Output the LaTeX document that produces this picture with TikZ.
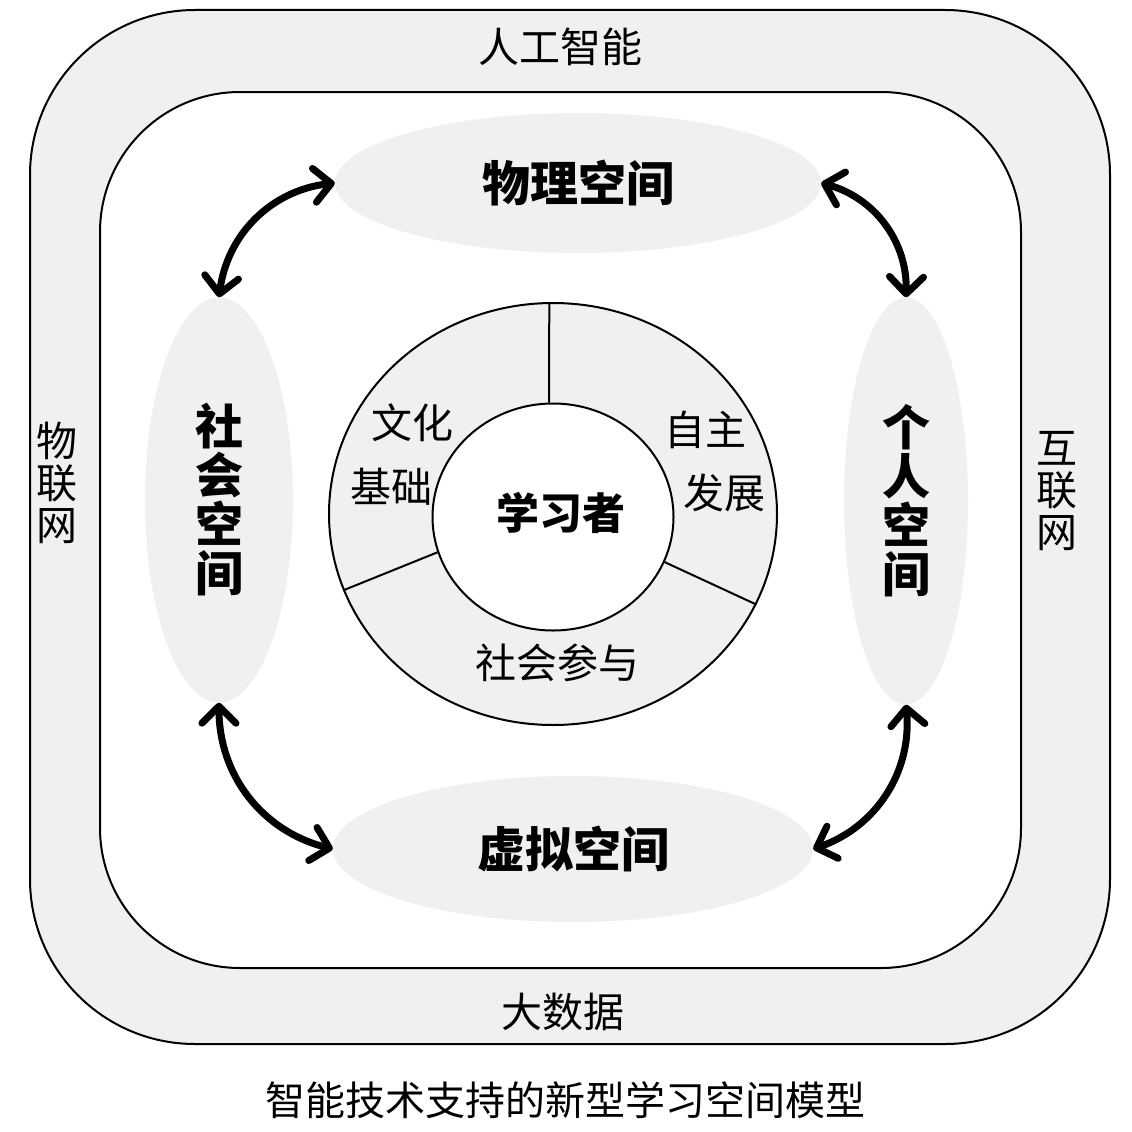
\documentclass[tikz,border=0pt]{standalone}
\usepackage{fontspec}
\setmainfont{Noto Sans CJK SC}
\usetikzlibrary{shapes.geometric,arrows.meta}
\definecolor{bandgray}{RGB}{240,240,240}
\definecolor{ovalgray}{RGB}{240,240,240}
\begin{document}
\begin{tikzpicture}[x=1pt,y=-1pt,
  frame/.style={draw=black,line width=2pt},
  oval/.style={ellipse,fill=ovalgray,inner sep=0pt,align=center,
    font=\fontsize{48}{49}\selectfont\bfseries},
  bandtxt/.style={inner sep=0pt,align=center,font=\fontsize{41}{42}\selectfont},
  ringtxt/.style={inner sep=0pt,align=center,font=\fontsize{41}{42}\selectfont},
  dbl/.style={line width=7pt,
    {Straight Barb[length=17pt,width=34pt,round]}-{Straight Barb[length=17pt,width=34pt,round]}},
  divider/.style={line width=2pt}
]
\useasboundingbox (0,0) rectangle (1132,1132);

% frames
\draw[frame,fill=bandgray,rounded corners=165pt] (30,10) rectangle (1110,1044);
\draw[frame,fill=white,rounded corners=140pt] (100,92) rectangle (1021,968);

% band labels
\node[bandtxt] (ai) at (560,47) {人工智能};
\node[bandtxt] (bd) at (563,1012) {大数据};
\node[bandtxt] (iot) at (57,483) {物\\联\\网};
\node[bandtxt] (net) at (1057,491) {互\\联\\网};

% four spaces
\node[oval,minimum width=486pt,minimum height=140pt] (phys) at (578,183) {物理空间};
\node[oval,minimum width=480pt,minimum height=146pt] (virt) at (573,849) {虚拟空间};
\node[oval,minimum width=148pt,minimum height=405pt] (soc) at (219,500) {社\\会\\空\\间};
\node[oval,minimum width=124pt,minimum height=407pt] (pers) at (906,501) {个\\人\\空\\间};

% arrows
\draw[dbl] (phys.west) to[bend right=38] (soc.north);
\draw[dbl] (phys.east) to[bend left=38] (pers.north);
\draw[dbl] (soc.south) to[bend right=38] (virt.west);
\draw[dbl] (pers.south) to[bend left=38] (virt.east);

% learner ring
\node[ellipse,draw=black,line width=2pt,fill=bandgray,inner sep=0pt,
  minimum width=448pt,minimum height=422pt] (ring) at (553,514) {};
\node[ellipse,draw=black,line width=2pt,fill=white,inner sep=0pt,
  minimum width=241pt,minimum height=227pt] (core) at (553,517) {};
\node[inner sep=0pt,font=\fontsize{43}{44}\selectfont\bfseries] (learner) at (561,513) {学习者};
\draw[divider] (core.92) -- (ring.91);
\draw[divider] (core.197) -- (ring.200);
\draw[divider] (core.338) -- (ring.336);

\node[ringtxt] (wh1) at (412,423) {文化};
\node[ringtxt] (wh2) at (391,487) {基础};
\node[ringtxt] (zz1) at (705,430) {自主};
\node[ringtxt] (zz2) at (724,493) {发展};
\node[ringtxt] (sh) at (557,663) {社会参与};

% caption
\node[inner sep=0pt,font=\fontsize{40}{40}\selectfont] (cap) at (565,1100) {智能技术支持的新型学习空间模型};
\end{tikzpicture}
\end{document}
